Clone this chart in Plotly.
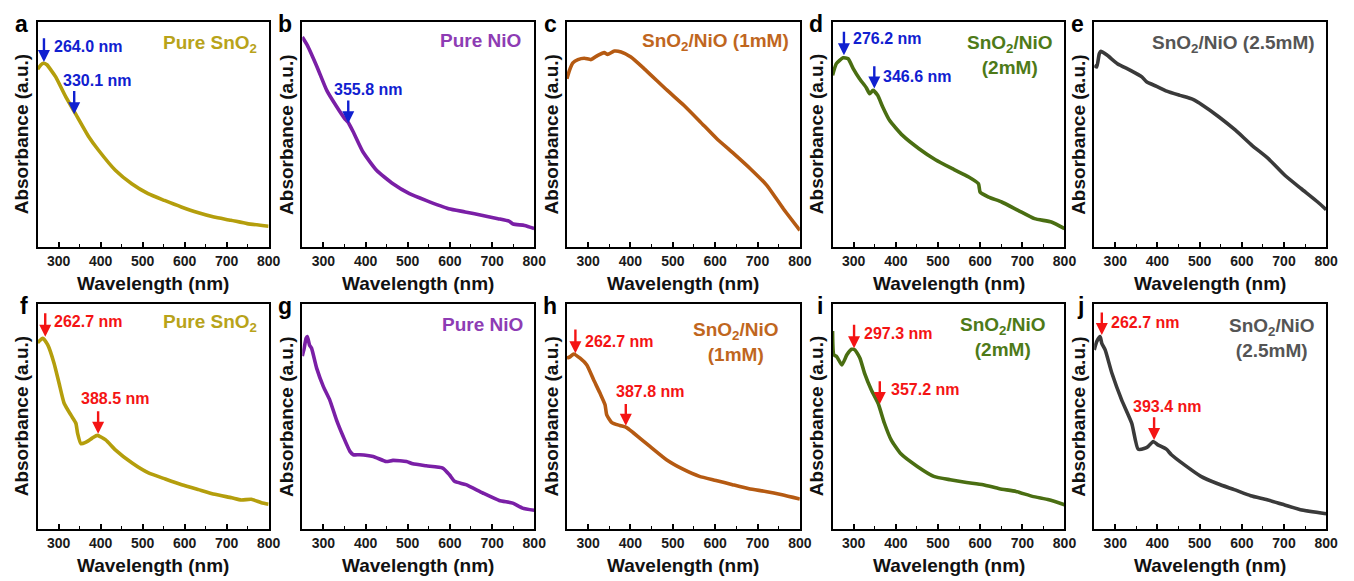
import plotly.graph_objects as go

# ---------------- data (absorbance, arbitrary units, normalised to panel height) ----------------
wl_a = [250, 258, 264, 272, 283, 293, 317, 340, 372, 395, 435, 474, 513, 552, 592, 631, 670, 710, 749, 800]
abs_a = [0.790, 0.810, 0.817, 0.810, 0.783, 0.756, 0.667, 0.593, 0.489, 0.430, 0.341, 0.281, 0.237, 0.207, 0.178, 0.153, 0.133, 0.119, 0.104, 0.092]

wl_b = [250, 262, 285, 308, 332, 350, 358, 371, 394, 426, 465, 504, 543, 597, 636, 675, 714, 740, 750, 777, 800]
abs_b = [0.933, 0.896, 0.800, 0.696, 0.622, 0.572, 0.556, 0.511, 0.422, 0.341, 0.281, 0.237, 0.207, 0.170, 0.156, 0.141, 0.126, 0.115, 0.102, 0.096, 0.082]

wl_c = [250, 256, 264, 276, 291, 307, 323, 338, 346, 362, 378, 401, 432, 487, 526, 565, 604, 644, 683, 722, 761, 800]
abs_c = [0.748, 0.785, 0.818, 0.833, 0.839, 0.833, 0.852, 0.864, 0.856, 0.871, 0.867, 0.844, 0.793, 0.696, 0.630, 0.556, 0.481, 0.415, 0.348, 0.274, 0.170, 0.074]

wl_d = [250, 259, 275, 287, 299, 314, 330, 338, 346, 357, 369, 385, 416, 455, 494, 534, 573, 596, 600, 620, 651, 690, 729, 769, 800]
abs_d = [0.763, 0.815, 0.841, 0.837, 0.793, 0.748, 0.708, 0.681, 0.696, 0.674, 0.622, 0.563, 0.496, 0.437, 0.388, 0.348, 0.311, 0.281, 0.244, 0.222, 0.200, 0.163, 0.126, 0.111, 0.082]

wl_e = [250, 256, 262, 266, 281, 305, 336, 363, 375, 398, 422, 453, 484, 507, 546, 585, 624, 663, 702, 741, 780, 800]
abs_e = [0.807, 0.800, 0.859, 0.870, 0.852, 0.815, 0.785, 0.756, 0.733, 0.714, 0.693, 0.674, 0.656, 0.630, 0.578, 0.519, 0.452, 0.393, 0.319, 0.259, 0.200, 0.166]

wl_f = [250, 262, 274, 289, 301, 313, 329, 341, 345, 353, 364, 380, 392, 412, 435, 475, 514, 554, 593, 633, 672, 712, 735, 759, 783, 800]
abs_f = [0.828, 0.848, 0.818, 0.737, 0.648, 0.559, 0.507, 0.470, 0.426, 0.379, 0.385, 0.404, 0.416, 0.396, 0.352, 0.293, 0.249, 0.222, 0.197, 0.175, 0.154, 0.139, 0.129, 0.132, 0.117, 0.110]

wl_g = [250, 254, 259, 262, 267, 272, 284, 300, 315, 331, 347, 363, 371, 386, 418, 449, 465, 497, 512, 544, 583, 599, 611, 638, 678, 717, 749, 772, 800]
abs_g = [0.769, 0.799, 0.848, 0.855, 0.818, 0.803, 0.715, 0.633, 0.574, 0.485, 0.411, 0.345, 0.330, 0.330, 0.322, 0.300, 0.305, 0.300, 0.290, 0.281, 0.271, 0.241, 0.212, 0.197, 0.160, 0.127, 0.115, 0.093, 0.083]

wl_h = [250, 258, 266, 281, 297, 313, 328, 340, 344, 356, 375, 391, 406, 446, 485, 524, 563, 602, 641, 680, 719, 758, 800]
abs_h = [0.759, 0.766, 0.778, 0.759, 0.729, 0.663, 0.604, 0.552, 0.507, 0.473, 0.460, 0.451, 0.429, 0.367, 0.308, 0.266, 0.234, 0.216, 0.197, 0.179, 0.167, 0.152, 0.133]

wl_i = [250, 253, 260, 272, 284, 295, 303, 315, 326, 342, 358, 373, 389, 412, 451, 490, 529, 568, 607, 646, 685, 724, 763, 800]
abs_i = [0.880, 0.774, 0.766, 0.729, 0.774, 0.799, 0.796, 0.759, 0.692, 0.618, 0.559, 0.470, 0.396, 0.334, 0.278, 0.234, 0.219, 0.207, 0.197, 0.179, 0.167, 0.145, 0.130, 0.108]

wl_j = [250, 256, 264, 268, 276, 292, 315, 339, 354, 370, 378, 390, 401, 421, 433, 464, 503, 543, 582, 621, 660, 700, 739, 800]
abs_j = [0.796, 0.833, 0.855, 0.825, 0.796, 0.692, 0.574, 0.470, 0.355, 0.359, 0.367, 0.389, 0.374, 0.355, 0.330, 0.285, 0.234, 0.201, 0.175, 0.148, 0.130, 0.108, 0.086, 0.068]

panel_letters = ["a", "b", "c", "d", "e", "f", "g", "h", "i", "j"]
sample_names = ["Pure SnO<sub>2</sub>", "Pure NiO", "SnO<sub>2</sub>/NiO (1mM)", "SnO<sub>2</sub>/NiO<br>(2mM)",
                "SnO<sub>2</sub>/NiO (2.5mM)", "Pure SnO<sub>2</sub>", "Pure NiO", "SnO<sub>2</sub>/NiO<br>(1mM)",
                "SnO<sub>2</sub>/NiO<br>(2mM)", "SnO<sub>2</sub>/NiO<br>(2.5mM)"]
x_ticks = [300, 400, 500, 600, 700, 800]

# peak marks: panel index, peak wavelength label
peak_labels = [(0, "264.0"), (0, "330.1"), (1, "355.8"), (3, "276.2"), (3, "346.6"),
               (5, "262.7"), (5, "388.5"), (7, "262.7"), (7, "387.8"), (8, "297.3"), (8, "357.2"),
               (9, "262.7"), (9, "393.4")]

series = [(wl_a, abs_a), (wl_b, abs_b), (wl_c, abs_c), (wl_d, abs_d), (wl_e, abs_e),
          (wl_f, abs_f), (wl_g, abs_g), (wl_h, abs_h), (wl_i, abs_i), (wl_j, abs_j)]

# ---------------- styling / layout ----------------
W, H = 1354, 581
FONT = "Liberation Sans, Arial, sans-serif"
line_cols = ["#B49E0C", "#7A1FA6", "#B55A12", "#4A6E12", "#3A3A3A"] * 2
label_cols = ["#B8A31A", "#8E3CB4", "#C0661E", "#4E7A18", "#555555"] * 2
BLUE = "#1020D0"
RED = "#F41414"

col_px = [(38, 271), (305, 539), (572, 807), (840, 1074), (1104, 1338)]
row_px = [(22, 247), (304, 529)]

# arrow geometry per peak mark: (arrow x, tip y, tail y, text x, text y, xanchor)
arrow_geo = [
    (265, 0.822, 0.935, 285, 0.889, "left"),
    (337, 0.590, 0.700, 391, 0.741, "center"),
    (359, 0.550, 0.658, 406, 0.699, "center"),
    (277, 0.852, 0.963, 293, 0.926, "left"),
    (349, 0.704, 0.810, 365, 0.756, "left"),
    (268, 0.855, 0.966, 285, 0.922, "left"),
    (394, 0.423, 0.530, 435, 0.581, "center"),
    (270, 0.781, 0.893, 289, 0.833, "left"),
    (389, 0.459, 0.562, 446, 0.611, "center"),
    (301, 0.803, 0.915, 320, 0.867, "left"),
    (362, 0.556, 0.663, 385, 0.618, "left"),
    (268, 0.862, 0.969, 285, 0.917, "left"),
    (392, 0.396, 0.503, 423, 0.544, "center"),
]
# sample label geometry: (x, y, xanchor)
label_geo = [(777, 0.904, "right"), (774, 0.919, "right"), (778, 0.911, "right"), (671, 0.852, "center"),
             (778, 0.904, "right"), (776, 0.914, "right"), (777, 0.907, "right"), (649, 0.833, "center"),
             (654, 0.852, "center"), (672, 0.848, "center")]

fig = go.Figure()
layout = dict(width=W, height=H, margin=dict(l=0, r=0, t=0, b=0),
              paper_bgcolor="white", plot_bgcolor="white", showlegend=False,
              font=dict(family=FONT, color="black"))
annotations = []

for k, (wl, ab) in enumerate(series):
    r, c = divmod(k, 5)
    n = k + 1
    xa = "x" if n == 1 else f"x{n}"
    ya = "y" if n == 1 else f"y{n}"
    x0, x1 = col_px[c]
    y0, y1 = row_px[r]
    fig.add_trace(go.Scatter(x=wl, y=ab, mode="lines", xaxis=xa, yaxis=ya,
                             line=dict(color=line_cols[k], width=3.6, shape="spline", smoothing=0.5),
                             hoverinfo="skip"))
    layout[f"xaxis{n}"] = dict(domain=[x0 / W, x1 / W], anchor=ya, range=[250, 800],
                               tickvals=x_ticks, ticks="inside", ticklen=5, tickwidth=1.5, tickcolor="black",
                               minor=dict(ticks="inside", ticklen=3, tickwidth=1.2, tickcolor="black",
                                          tickvals=[350, 450, 550, 650, 750]),
                               showline=True, linecolor="black", linewidth=1.5, mirror=True,
                               showgrid=False, zeroline=False,
                               tickfont=dict(family=FONT, size=14, color="#1a1a1a", weight="bold"))
    layout[f"yaxis{n}"] = dict(domain=[1 - y1 / H, 1 - y0 / H], anchor=xa, range=[0, 1],
                               showticklabels=False, ticks="", showline=True, linecolor="black",
                               linewidth=1.5, mirror=True, showgrid=False, zeroline=False)
    xd = f"{xa} domain"
    yd = f"{ya} domain"
    # axis titles
    annotations.append(dict(text="Absorbance (a.u.)", xref=xd, yref=yd, x=-16 / (x1 - x0), y=0.5,
                            textangle=-90, showarrow=False, xanchor="center", yanchor="middle",
                            font=dict(family=FONT, size=19, color="#111", weight="bold")))
    annotations.append(dict(text="Wavelength (nm)", xref=xd, yref=yd, x=0.5, y=-36 / (y1 - y0),
                            showarrow=False, xanchor="center", yanchor="middle",
                            font=dict(family=FONT, size=19, color="#111", weight="bold")))
    # panel letter
    annotations.append(dict(text=panel_letters[k], xref=xd, yref=yd, x=-8 / (x1 - x0), y=0.99,
                            showarrow=False, xanchor="right", yanchor="middle",
                            font=dict(family=FONT, size=23, color="black", weight="bold")))
    # sample name
    lx, ly, lanc = label_geo[k]
    annotations.append(dict(text=sample_names[k], xref=xa, yref=ya, x=lx, y=ly, showarrow=False,
                            xanchor=lanc, yanchor="middle", align="center",
                            font=dict(family=FONT, size=19, color=label_cols[k], weight="bold")))

for (k, lab), (axx, tip, tail, tx, ty, anc) in zip(peak_labels, arrow_geo):
    n = k + 1
    xa = "x" if n == 1 else f"x{n}"
    ya = "y" if n == 1 else f"y{n}"
    col = BLUE if k < 5 else RED
    annotations.append(dict(text="", x=axx, y=tip, ax=axx, ay=tail, xref=xa, yref=ya, axref=xa, ayref=ya,
                            showarrow=True, arrowhead=2, arrowsize=1.0, arrowwidth=2.4, arrowcolor=col))
    annotations.append(dict(text=f"{lab} nm", x=tx, y=ty, xref=xa, yref=ya, showarrow=False,
                            xanchor=anc, yanchor="middle",
                            font=dict(family=FONT, size=16, color=col, weight="bold")))

layout["annotations"] = annotations
fig.update_layout(**layout)
fig.write_html("out.html")
